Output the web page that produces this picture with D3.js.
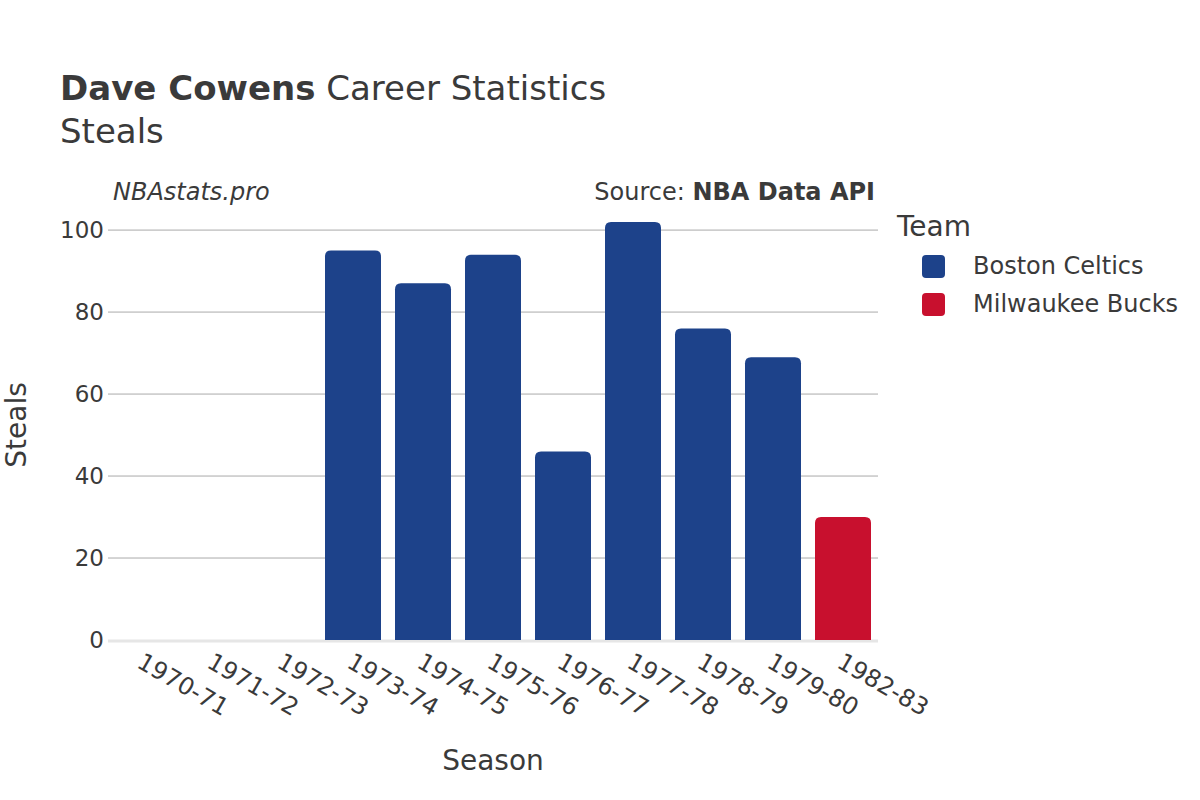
<!DOCTYPE html>
<html>
<head>
<meta charset="utf-8">
<script src="https://cdn.jsdelivr.net/npm/d3@7"></script>
<style>
  body { margin: 0; background: #fff; }
  svg text { font-family: "DejaVu Sans", sans-serif; fill: #3a3a3a; }
</style>
</head>
<body>
<svg id="chart" width="1200" height="800"></svg>
<script>
// data
const seasons = ["1970-71", "1971-72", "1972-73", "1973-74", "1974-75", "1975-76",
                 "1976-77", "1977-78", "1978-79", "1979-80", "1982-83"];
const steals = [0, 0, 0, 95, 87, 94, 46, 102, 76, 69, 30];
const teams = ["BOS", "BOS", "BOS", "BOS", "BOS", "BOS", "BOS", "BOS", "BOS", "BOS", "MIL"];
const teamNames = ["Boston Celtics", "Milwaukee Bucks"];
const teamKeys = ["BOS", "MIL"];
const teamColors = ["#1d428a", "#c8102e"];
const yTicks = [0, 20, 40, 60, 80, 100];

const plotLeft = 108, plotRight = 878, plotTop = 210, plotBottom = 640;

const svg = d3.select("#chart");

const x = d3.scaleBand(seasons, [plotLeft, plotRight]).paddingInner(0.2).paddingOuter(0.1);
const y = d3.scaleLinear([0, 104.9], [plotBottom, plotTop]);
const color = d3.scaleOrdinal(teamKeys, teamColors);

// gridlines
svg.append("g")
  .selectAll("line")
  .data(yTicks.filter(d => d > 0))
  .enter()
  .append("line")
  .attr("x1", plotLeft).attr("x2", plotRight)
  .attr("y1", d => y(d)).attr("y2", d => y(d))
  .attr("stroke", "#aaaaaa")
  .attr("stroke-width", 1);

// zero line
svg.append("line")
  .attr("x1", plotLeft).attr("x2", plotRight)
  .attr("y1", y(0) + 1).attr("y2", y(0) + 1)
  .attr("stroke", "#e6e6e6")
  .attr("stroke-width", 3);

// bars with rounded top
function barPath(x0, w, yTop, yBase) {
  const r = Math.min(6, (yBase - yTop) / 2, w / 2);
  if (yBase - yTop <= 0) return "";
  return `M${x0},${yBase}V${yTop + r}Q${x0},${yTop} ${x0 + r},${yTop}` +
    `H${x0 + w - r}Q${x0 + w},${yTop} ${x0 + w},${yTop + r}V${yBase}Z`;
}

svg.append("g")
  .selectAll("path")
  .data(seasons)
  .enter()
  .append("path")
  .attr("fill", (d, i) => color(teams[i]))
  .attr("d", (d, i) => barPath(x(d), x.bandwidth(), y(steals[i]), y(0)));

// y axis labels
svg.append("g")
  .selectAll("text")
  .data(yTicks)
  .enter()
  .append("text")
  .attr("x", plotLeft - 4)
  .attr("y", d => y(d))
  .attr("dy", "0.36em")
  .attr("text-anchor", "end")
  .style("font-size", "23px")
  .text(d => d);

// x axis labels
svg.append("g")
  .selectAll("text")
  .data(seasons)
  .enter()
  .append("text")
  .attr("transform", d => `translate(${x(d) + x.bandwidth() / 2 + 1},${plotBottom + 12}) rotate(30)`)
  .attr("dy", "0.7em")
  .attr("text-anchor", "start")
  .style("font-size", "24px")
  .text(d => d);

// titles
const title = svg.append("text").attr("x", 60).attr("y", 100).style("font-size", "34px");
title.append("tspan").style("font-weight", "bold").text("Dave Cowens");
title.append("tspan").text(" Career Statistics");

svg.append("text").attr("x", 60).attr("y", 143).style("font-size", "34px").text("Steals");

svg.append("text")
  .attr("x", 113).attr("y", 200)
  .style("font-size", "24px").style("font-style", "italic")
  .text("NBAstats.pro");

const src = svg.append("text")
  .attr("x", 875).attr("y", 200)
  .attr("text-anchor", "end")
  .style("font-size", "24px");
src.append("tspan").text("Source: ");
src.append("tspan").style("font-weight", "bold").text("NBA Data API");

svg.append("text")
  .attr("x", 493).attr("y", 770)
  .attr("text-anchor", "middle")
  .style("font-size", "28px")
  .text("Season");

svg.append("text")
  .attr("transform", `translate(26,${(plotTop + plotBottom) / 2}) rotate(-90)`)
  .attr("text-anchor", "middle")
  .style("font-size", "28px")
  .text("Steals");

// legend
svg.append("text")
  .attr("x", 897).attr("y", 236)
  .style("font-size", "28px")
  .text("Team");

const legend = svg.append("g")
  .selectAll("g")
  .data(teamNames)
  .enter()
  .append("g")
  .attr("transform", (d, i) => `translate(922,${266 + i * 38})`);

legend.append("rect")
  .attr("x", 0).attr("y", -11)
  .attr("width", 23).attr("height", 23)
  .attr("rx", 4)
  .attr("fill", (d, i) => teamColors[i]);

legend.append("text")
  .attr("x", 51).attr("y", 0)
  .attr("dy", "0.35em")
  .style("font-size", "24px")
  .text(d => d);
</script>
</body>
</html>
